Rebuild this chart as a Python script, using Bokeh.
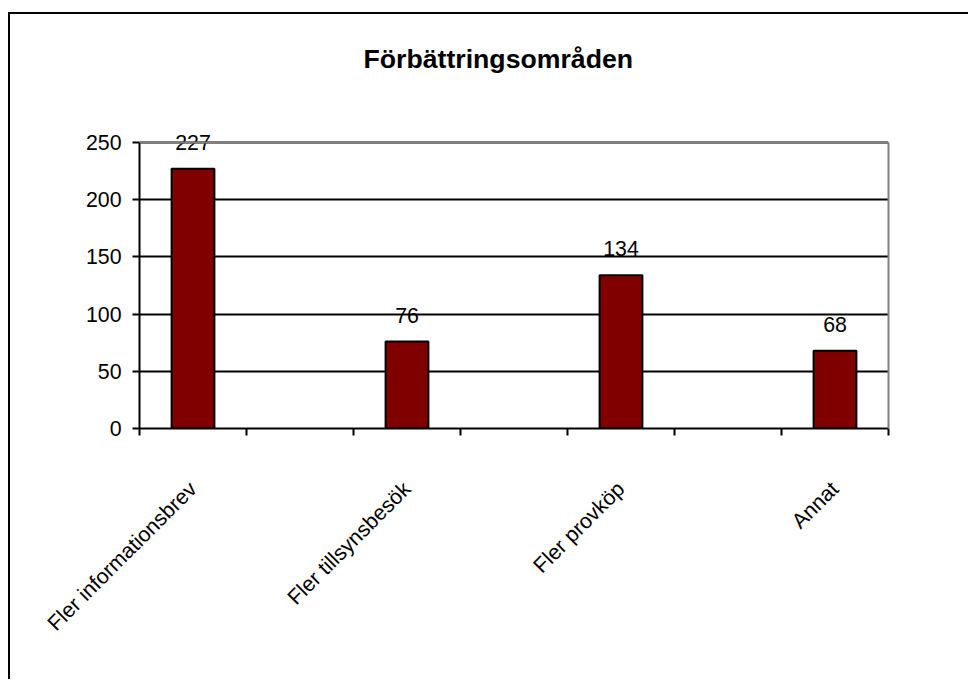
import math
from bokeh.plotting import figure
from bokeh.models import Range1d, FixedTicker, LabelSet, ColumnDataSource, LinearAxis, Span, Title
from bokeh.core.properties import value
from bokeh.embed import file_html
from bokeh.resources import INLINE

title_text = "Förbättringsområden"
categories = ["Fler informationsbrev", "Fler tillsynsbesök", "Fler provköp", "Annat"]
values = [227, 76, 134, 68]
y_ticks = [0, 50, 100, 150, 200, 250]

FONT = "Liberation Sans"
n_slots = 2 * len(categories) - 1          # empty category slots between bars
xpos = [2 * i + 0.5 for i in range(len(categories))]
y_top = y_ticks[-1]

p = figure(width=960, height=667, output_backend="svg", toolbar_location=None,
           x_range=Range1d(0, n_slots), y_range=Range1d(0, y_top + 12.24),
           min_border_left=129, min_border_right=82, min_border_top=114,
           min_border_bottom=253)
p.styles = {"border-top": "2px solid black", "border-left": "2px solid black",
            "margin-top": "12px", "margin-left": "8px"}

# spacer between the title and the plot area
p.add_layout(Title(text=" ", text_font_size="1px", standoff=52), "above")
main_title = Title(text=title_text, text_font=FONT, text_font_size="20pt",
                   text_font_style="bold", text_color="black", align="left",
                   offset=224, standoff=0)
p.add_layout(main_title, "above")

p.background_fill_color = "white"
p.border_fill_color = "white"
p.outline_line_color = None

src = ColumnDataSource(dict(x=xpos, top=values, label=[str(v) for v in values]))
p.vbar(x="x", top="top", width=0.4, bottom=0, source=src,
       fill_color="#800000", line_color="black", line_width=2)

labels = LabelSet(x="x", y="top", text="label", source=src, y_offset=19,
                  text_align="center", text_baseline="alphabetic",
                  text_font=value(FONT), text_font_size=value("16pt"),
                  text_color="black")
p.add_layout(labels)

# grid
p.xgrid.visible = False
p.ygrid.ticker = FixedTicker(ticks=y_ticks)
p.ygrid.grid_line_color = "black"
p.ygrid.grid_line_width = 2

# plot-area border (grey) on top and right
p.add_layout(Span(location=y_top, dimension="width", line_color="#808080", line_width=2))
right_axis = LinearAxis(bounds=(0, y_top), ticker=FixedTicker(ticks=[]),
                        axis_line_color="#808080", axis_line_width=2,
                        major_tick_line_color=None, minor_tick_line_color=None,
                        major_label_text_font_size="0pt")
p.add_layout(right_axis, "right")

# y axis
yax = p.yaxis[0]
yax.bounds = (0, y_top)
yax.ticker = FixedTicker(ticks=y_ticks)
yax.axis_line_color = "black"
yax.axis_line_width = 2
yax.major_tick_out = 7
yax.major_tick_in = 0
yax.major_tick_line_width = 2
yax.minor_tick_line_color = None
yax.major_label_text_font = FONT
yax.major_label_text_font_size = "16pt"
yax.major_label_text_color = "black"
yax.major_label_standoff = 11

# x axis: tick marks at slot boundaries, labels under bars
xax = p.xaxis[0]
xax.ticker = FixedTicker(ticks=xpos, minor_ticks=list(range(n_slots + 1)))
xax.major_label_overrides = {x: c for x, c in zip(xpos, categories)}
xax.major_tick_line_color = None
xax.major_tick_out = 0
xax.major_tick_in = 0
xax.minor_tick_line_color = "black"
xax.minor_tick_line_width = 2
xax.minor_tick_out = 7
xax.minor_tick_in = 0
xax.axis_line_color = "black"
xax.axis_line_width = 2
xax.major_label_orientation = math.pi / 4
xax.major_label_text_font = FONT
xax.major_label_text_font_size = "16pt"
xax.major_label_text_color = "black"
xax.major_label_standoff = 50

open("out.html", "w").write(file_html(p, INLINE))
